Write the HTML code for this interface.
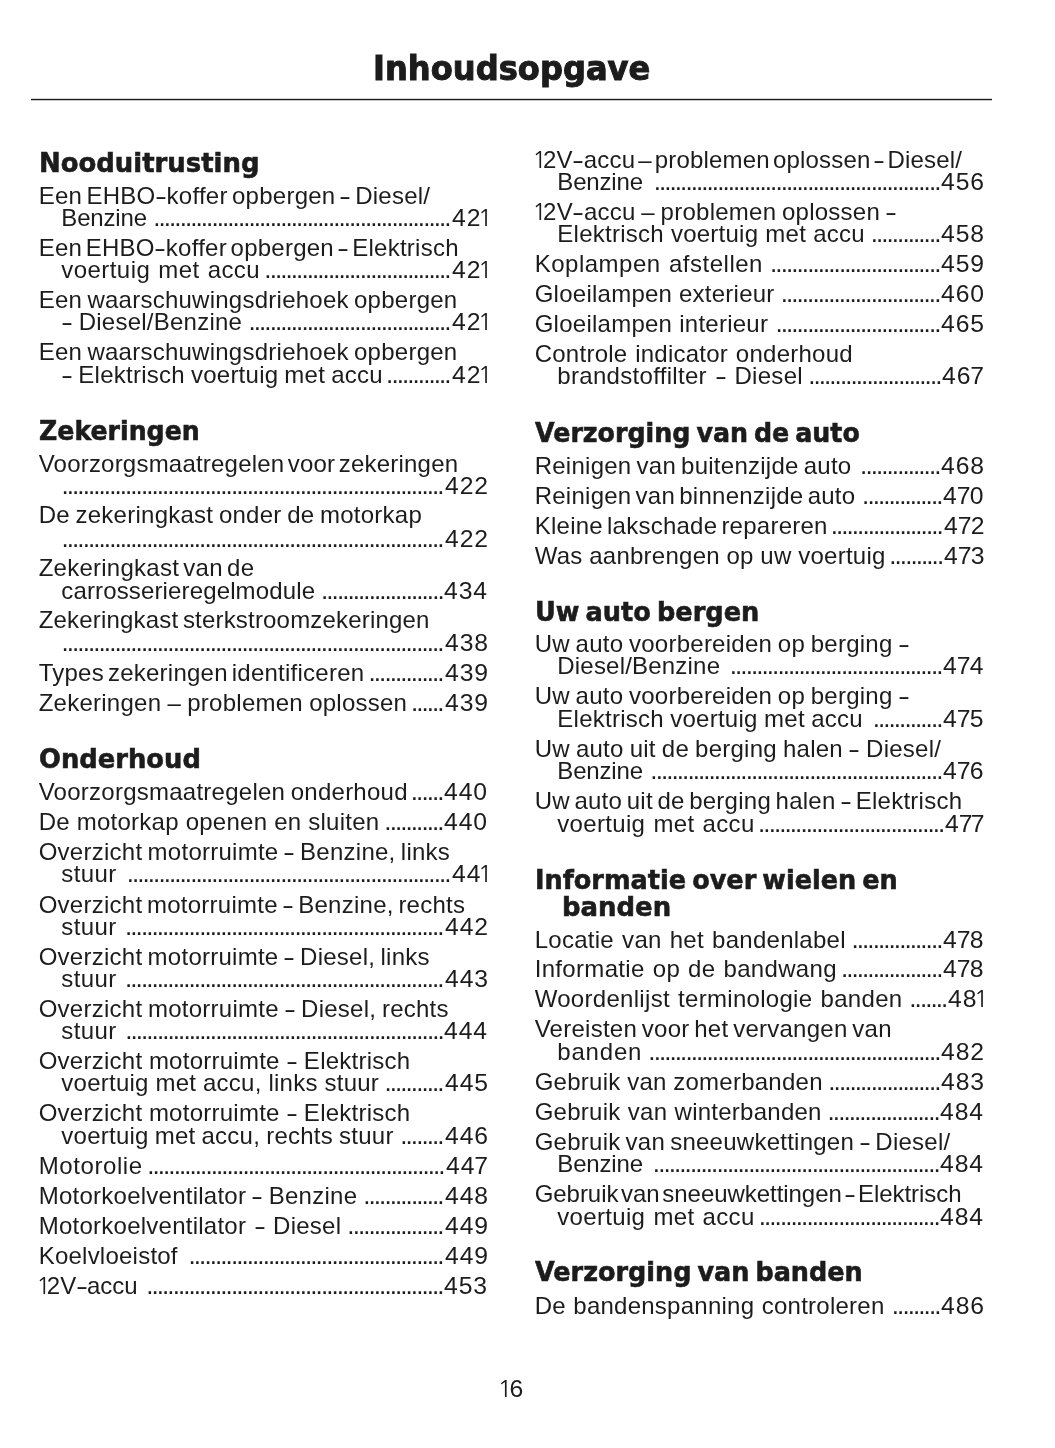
<!DOCTYPE html>
<html lang="nl"><head><meta charset="utf-8"><title>Inhoudsopgave</title>
<style>
html,body{margin:0;padding:0;background:#fff}
body{width:1055px;height:1448px;position:relative;overflow:hidden;color:#1c1c1c;font-family:"Liberation Sans",sans-serif}
h1,h2,p,div{margin:0;padding:0;position:absolute;white-space:nowrap}
h1{font-family:"DejaVu Sans","Liberation Sans",sans-serif;font-size:33.5px;line-height:40px;font-weight:bold;-webkit-text-stroke:1px #1c1c1c;transform-origin:0 0;word-spacing:-3px}
hr{position:absolute;margin:0;border:0;left:31.4px;top:98px;width:960.5px;height:3px;background:linear-gradient(#d4d4d4 0,#d4d4d4 1px,#1e1e1e 1px,#1e1e1e 2px,#c4c4c4 2px,#c4c4c4 3px)}
h2{font-family:"DejaVu Sans","Liberation Sans",sans-serif;font-size:26.5px;line-height:32px;font-weight:bold;-webkit-text-stroke:0.6px #1c1c1c;transform-origin:0 0;word-spacing:-3px}
.t{font-size:24px;line-height:24px}
.d{font-size:26px;line-height:24px;letter-spacing:-1.93px;text-align:right}
.p,.n{font-size:24px;line-height:24px;letter-spacing:0.9px;transform-origin:0 0;transform:scaleX(1.03)}
i{font-style:normal;font-family:"NanumGothic","Liberation Sans",sans-serif;line-height:0;margin:0 -4.2px 0 -3.4px}
.t i{margin:0 -3.9px 0 -2.5px}
u{text-decoration:none;display:inline-block;transform:scaleX(1.5);margin:0 1.4px}
.p b{font-weight:normal;margin:0 -1.6px 0 -1px}
</style></head><body>
<h1 style="left:373.08px;top:49px;transform:scaleX(0.9594)">Inhoudsopgave</h1>
<hr>
<h2 style="left:38.9px;top:147px;transform:scaleX(0.9778)">Nooduitrusting</h2>
<div class="t" style="left:38.7px;top:184px;word-spacing:-2.56px;letter-spacing:0.25px">Een EHBO<u>-</u>koffer opbergen <u>-</u> Diesel/</div>
<div class="t" style="left:61.3px;top:206px;letter-spacing:-0.17px">Benzine</div>
<div class="d" style="left:132.85px;width:316.8px;top:205px">........................................................</div>
<div class="p" style="left:451.7px;top:206px">42<i>1</i></div>
<div class="t" style="left:38.7px;top:236px;word-spacing:-3.29px;letter-spacing:0.25px">Een EHBO<u>-</u>koffer opbergen <u>-</u> Elektrisch</div>
<div class="t" style="left:61.3px;top:258px;word-spacing:0.95px;letter-spacing:0.44px">voertuig met accu</div>
<div class="d" style="left:244.15px;width:205.5px;top:257px">...................................</div>
<div class="p" style="left:451.7px;top:258px">42<i>1</i></div>
<div class="t" style="left:38.7px;top:288px;word-spacing:-1.67px;letter-spacing:0.25px">Een waarschuwingsdriehoek opbergen</div>
<div class="t" style="left:61.3px;top:310px;word-spacing:-0.62px;letter-spacing:0.25px"><u>-</u> Diesel/Benzine</div>
<div class="d" style="left:228.25px;width:221.4px;top:309px">......................................</div>
<div class="p" style="left:451.7px;top:310px">42<i>1</i></div>
<div class="t" style="left:38.7px;top:340px;word-spacing:-1.67px;letter-spacing:0.25px">Een waarschuwingsdriehoek opbergen</div>
<div class="t" style="left:61.3px;top:363px;word-spacing:-0.88px;letter-spacing:0.25px"><u>-</u> Elektrisch voertuig met accu</div>
<div class="d" style="left:366.05px;width:83.6px;top:362px">............</div>
<div class="p" style="left:451.7px;top:363px">42<i>1</i></div>
<h2 style="left:38.9px;top:415px;transform:scaleX(0.9516)">Zekeringen</h2>
<div class="t" style="left:38.7px;top:452px;word-spacing:-3.45px;letter-spacing:0.21px">Voorzorgsmaatregelen voor zekeringen</div>
<div class="d" style="left:41.05px;width:401.6px;top:473px">........................................................................</div>
<div class="p" style="left:444.7px;top:474px">422</div>
<div class="t" style="left:38.7px;top:503px;word-spacing:-1.27px;letter-spacing:0.25px">De zekeringkast onder de motorkap</div>
<div class="d" style="left:41.05px;width:401.6px;top:526px">........................................................................</div>
<div class="p" style="left:444.7px;top:527px">422</div>
<div class="t" style="left:38.7px;top:556px;word-spacing:-2.65px;letter-spacing:0.25px">Zekeringkast van de</div>
<div class="t" style="left:61.3px;top:579px;letter-spacing:0.14px">carrosserieregelmodule</div>
<div class="d" style="left:300.89px;width:141.9px;top:578px">.......................</div>
<div class="p" style="left:444.37px;top:579px">434</div>
<div class="t" style="left:38.7px;top:608px;word-spacing:-2.34px;letter-spacing:0.19px">Zekeringkast sterkstroomzekeringen</div>
<div class="d" style="left:41.05px;width:401.6px;top:630px">........................................................................</div>
<div class="p" style="left:444.7px;top:631px">438</div>
<div class="t" style="left:38.7px;top:661px;word-spacing:-3px;letter-spacing:0.25px">Types zekeringen identificeren</div>
<div class="d" style="left:348.45px;width:94.2px;top:660px">..............</div>
<div class="p" style="left:444.7px;top:661px">439</div>
<div class="t" style="left:38.7px;top:691px;word-spacing:-0.71px;letter-spacing:0.25px">Zekeringen – problemen oplossen</div>
<div class="d" style="left:390.85px;width:51.8px;top:690px">......</div>
<div class="p" style="left:444.7px;top:691px">439</div>
<h2 style="left:38.9px;top:743px;transform:scaleX(0.9731)">Onderhoud</h2>
<div class="t" style="left:38.7px;top:780px;word-spacing:-1.34px;letter-spacing:0.25px">Voorzorgsmaatregelen onderhoud</div>
<div class="d" style="left:390.81px;width:51.8px;top:779px">......</div>
<div class="p" style="left:444.17px;top:780px">440</div>
<div class="t" style="left:38.7px;top:810px;word-spacing:-0.04px;letter-spacing:0.25px">De motorkap openen en sluiten</div>
<div class="d" style="left:364.31px;width:78.3px;top:809px">...........</div>
<div class="p" style="left:444.17px;top:810px">440</div>
<div class="t" style="left:38.7px;top:840px;word-spacing:-1.59px;letter-spacing:0.25px">Overzicht motorruimte <u>-</u> Benzine, links</div>
<div class="t" style="left:61.3px;top:862px;letter-spacing:0.4px">stuur</div>
<div class="d" style="left:106.25px;width:343.3px;top:861px">.............................................................</div>
<div class="p" style="left:451.7px;top:862px">44<i>1</i></div>
<div class="t" style="left:38.7px;top:893px;word-spacing:-2.2px;letter-spacing:0.25px">Overzicht motorruimte <u>-</u> Benzine, rechts</div>
<div class="t" style="left:61.3px;top:915px;letter-spacing:0.4px">stuur</div>
<div class="d" style="left:104.65px;width:338px;top:914px">............................................................</div>
<div class="p" style="left:444.7px;top:915px">442</div>
<div class="t" style="left:38.7px;top:945px;word-spacing:-1.59px;letter-spacing:0.25px">Overzicht motorruimte <u>-</u> Diesel, links</div>
<div class="t" style="left:61.3px;top:967px;letter-spacing:0.4px">stuur</div>
<div class="d" style="left:104.65px;width:338px;top:966px">............................................................</div>
<div class="p" style="left:444.7px;top:967px">443</div>
<div class="t" style="left:38.7px;top:997px;word-spacing:-1.25px;letter-spacing:0.25px">Overzicht motorruimte <u>-</u> Diesel, rechts</div>
<div class="t" style="left:61.3px;top:1019px;letter-spacing:0.4px">stuur</div>
<div class="d" style="left:104.79px;width:338px;top:1018px">............................................................</div>
<div class="p" style="left:444.37px;top:1019px">444</div>
<div class="t" style="left:38.7px;top:1049px;word-spacing:-0.33px;letter-spacing:0.25px">Overzicht motorruimte <u>-</u> Elektrisch</div>
<div class="t" style="left:61.3px;top:1071px;word-spacing:-0.13px;letter-spacing:0.25px">voertuig met accu, links stuur</div>
<div class="d" style="left:364.35px;width:78.3px;top:1070px">...........</div>
<div class="p" style="left:444.7px;top:1071px">445</div>
<div class="t" style="left:38.7px;top:1101px;word-spacing:-0.33px;letter-spacing:0.25px">Overzicht motorruimte <u>-</u> Elektrisch</div>
<div class="t" style="left:61.3px;top:1124px;word-spacing:-0.88px;letter-spacing:0.25px">voertuig met accu, rechts stuur</div>
<div class="d" style="left:380.25px;width:62.4px;top:1123px">........</div>
<div class="p" style="left:444.7px;top:1124px">446</div>
<div class="t" style="left:38.7px;top:1154px;letter-spacing:0.59px">Motorolie</div>
<div class="d" style="left:126.85px;width:316.8px;top:1153px">........................................................</div>
<div class="p" style="left:445.7px;top:1154px">44<b>7</b></div>
<div class="t" style="left:38.7px;top:1184px;word-spacing:-1.15px;letter-spacing:0.25px">Motorkoelventilator <u>-</u> Benzine</div>
<div class="d" style="left:343.15px;width:99.5px;top:1183px">...............</div>
<div class="p" style="left:444.7px;top:1184px">448</div>
<div class="t" style="left:38.7px;top:1214px;word-spacing:1px;letter-spacing:0.25px">Motorkoelventilator <u>-</u> Diesel</div>
<div class="d" style="left:327.25px;width:115.4px;top:1213px">..................</div>
<div class="p" style="left:444.7px;top:1214px">449</div>
<div class="t" style="left:38.7px;top:1244px;letter-spacing:0.23px">Koelvloeistof</div>
<div class="d" style="left:168.25px;width:274.4px;top:1243px">................................................</div>
<div class="p" style="left:444.7px;top:1244px">449</div>
<div class="t" style="left:38.7px;top:1274px"><i>1</i>2V<u>-</u>accu</div>
<div class="d" style="left:125.85px;width:316.8px;top:1273px">........................................................</div>
<div class="p" style="left:444.2px;top:1274px">453</div>
<div class="t" style="left:534.7px;top:148px;word-spacing:-3.85px;letter-spacing:0.19px"><i>1</i>2V<u>-</u>accu – problemen oplossen <u>-</u> Diesel/</div>
<div class="t" style="left:557.3px;top:170px;letter-spacing:-0.17px">Benzine</div>
<div class="d" style="left:633.3px;width:306.2px;top:169px">......................................................</div>
<div class="p" style="left:940.7px;top:170px">456</div>
<div class="t" style="left:534.7px;top:200px;word-spacing:-1.25px;letter-spacing:0.25px"><i>1</i>2V<u>-</u>accu – problemen oplossen <u>-</u></div>
<div class="t" style="left:557.3px;top:222px;word-spacing:0.16px;letter-spacing:0.25px">Elektrisch voertuig met accu</div>
<div class="d" style="left:850.6px;width:88.9px;top:221px">.............</div>
<div class="p" style="left:940.7px;top:222px">458</div>
<div class="t" style="left:534.7px;top:252px;word-spacing:1.08px;letter-spacing:0.51px">Koplampen afstellen</div>
<div class="d" style="left:749.9px;width:189.6px;top:251px">................................</div>
<div class="p" style="left:940.7px;top:252px">459</div>
<div class="t" style="left:534.7px;top:282px;word-spacing:-0.11px;letter-spacing:0.25px">Gloeilampen exterieur</div>
<div class="d" style="left:760.46px;width:179px;top:281px">..............................</div>
<div class="p" style="left:941.17px;top:282px">460</div>
<div class="t" style="left:534.7px;top:312px;word-spacing:0.11px;letter-spacing:0.25px">Gloeilampen interieur</div>
<div class="d" style="left:755.2px;width:184.3px;top:311px">...............................</div>
<div class="p" style="left:940.7px;top:312px">465</div>
<div class="t" style="left:534.7px;top:342px;word-spacing:0.82px;letter-spacing:0.25px">Controle indicator onderhoud</div>
<div class="t" style="left:557.3px;top:364px;word-spacing:1.2px;letter-spacing:0.31px">brandstoffilter <u>-</u> Diesel</div>
<div class="d" style="left:788px;width:152.5px;top:363px">.........................</div>
<div class="p" style="left:942.2px;top:364px">46<b>7</b></div>
<h2 style="left:535.4px;top:417px;transform:scaleX(0.9555)">Verzorging van de auto</h2>
<div class="t" style="left:534.7px;top:454px;word-spacing:-1.81px;letter-spacing:0.25px">Reinigen van buitenzijde auto</div>
<div class="d" style="left:840px;width:99.5px;top:453px">...............</div>
<div class="p" style="left:940.7px;top:454px">468</div>
<div class="t" style="left:534.7px;top:484px;word-spacing:-2.72px;letter-spacing:0.25px">Reinigen van binnenzijde auto</div>
<div class="d" style="left:842px;width:99.5px;top:483px">...............</div>
<div class="p" style="left:942.7px;top:484px">4<b>7</b>0</div>
<div class="t" style="left:534.7px;top:514px;word-spacing:-2.84px;letter-spacing:0.25px">Kleine lakschade repareren</div>
<div class="d" style="left:810.5px;width:131.3px;top:513px">.....................</div>
<div class="p" style="left:943.91px;top:514px">4<b>7</b>2</div>
<div class="t" style="left:534.7px;top:544px;word-spacing:-0.25px;letter-spacing:0.25px">Was aanbrengen op uw voertuig</div>
<div class="d" style="left:869.19px;width:73px;top:543px">..........</div>
<div class="p" style="left:943.63px;top:544px">4<b>7</b>3</div>
<h2 style="left:535.4px;top:596px;transform:scaleX(0.9671)">Uw auto bergen</h2>
<div class="t" style="left:534.7px;top:632px;word-spacing:-1.2px;letter-spacing:0.25px">Uw auto voorbereiden op berging <u>-</u></div>
<div class="t" style="left:557.3px;top:654px;letter-spacing:0.2px">Diesel/Benzine</div>
<div class="d" style="left:709.5px;width:232px;top:653px">........................................</div>
<div class="p" style="left:942.7px;top:654px">4<b>7</b>4</div>
<div class="t" style="left:534.7px;top:684px;word-spacing:-1.2px;letter-spacing:0.25px">Uw auto voorbereiden op berging <u>-</u></div>
<div class="t" style="left:557.3px;top:707px;word-spacing:-0.5px;letter-spacing:0.25px">Elektrisch voertuig met accu</div>
<div class="d" style="left:852.6px;width:88.9px;top:706px">.............</div>
<div class="p" style="left:942.7px;top:707px">4<b>7</b>5</div>
<div class="t" style="left:534.7px;top:737px;word-spacing:-0.86px;letter-spacing:0.25px">Uw auto uit de berging halen <u>-</u> Diesel/</div>
<div class="t" style="left:557.3px;top:759px;letter-spacing:-0.17px">Benzine</div>
<div class="d" style="left:630px;width:311.5px;top:758px">.......................................................</div>
<div class="p" style="left:943.2px;top:759px">4<b>7</b>6</div>
<div class="t" style="left:534.7px;top:789px;word-spacing:-2.34px;letter-spacing:0.25px">Uw auto uit de berging halen <u>-</u> Elektrisch</div>
<div class="t" style="left:557.3px;top:812px;word-spacing:1.2px;letter-spacing:0.32px">voertuig met accu</div>
<div class="d" style="left:737.85px;width:205.5px;top:811px">...................................</div>
<div class="p" style="left:944.91px;top:812px">4<b>7</b><b>7</b></div>
<h2 style="left:535.4px;top:864px;transform:scaleX(0.9643)">Informatie over wielen en</h2>
<h2 style="left:561.75px;top:891px;transform:scaleX(0.9788)">banden</h2>
<div class="t" style="left:534.7px;top:928px;word-spacing:1.2px;letter-spacing:0.27px">Locatie van het bandenlabel</div>
<div class="d" style="left:831.4px;width:110.1px;top:927px">.................</div>
<div class="p" style="left:943.2px;top:928px">4<b>7</b>8</div>
<div class="t" style="left:534.7px;top:957px;word-spacing:1.03px;letter-spacing:0.33px">Informatie op de bandwang</div>
<div class="d" style="left:820.8px;width:120.7px;top:956px">...................</div>
<div class="p" style="left:943.2px;top:957px">4<b>7</b>8</div>
<div class="t" style="left:534.7px;top:987px;word-spacing:1.2px;letter-spacing:0.3px">Woordenlijst terminologie banden</div>
<div class="d" style="left:889.31px;width:57.1px;top:986px">.......</div>
<div class="p" style="left:948.2px;top:987px">48<i>1</i></div>
<div class="t" style="left:534.7px;top:1017px;word-spacing:-2.13px;letter-spacing:0.25px">Vereisten voor het vervangen van</div>
<div class="t" style="left:557.3px;top:1040px;letter-spacing:0.8px">banden</div>
<div class="d" style="left:628px;width:311.5px;top:1039px">.......................................................</div>
<div class="p" style="left:940.7px;top:1040px">482</div>
<div class="t" style="left:534.7px;top:1070px;word-spacing:-0.26px;letter-spacing:0.25px">Gebruik van zomerbanden</div>
<div class="d" style="left:808.2px;width:131.3px;top:1069px">.....................</div>
<div class="p" style="left:940.7px;top:1070px">483</div>
<div class="t" style="left:534.7px;top:1100px;word-spacing:0.41px;letter-spacing:0.25px">Gebruik van winterbanden</div>
<div class="d" style="left:807.44px;width:131.3px;top:1099px">.....................</div>
<div class="p" style="left:940.37px;top:1100px">484</div>
<div class="t" style="left:534.7px;top:1130px;word-spacing:-1.79px;letter-spacing:0.25px">Gebruik van sneeuwkettingen <u>-</u> Diesel/</div>
<div class="t" style="left:557.3px;top:1152px;letter-spacing:-0.17px">Benzine</div>
<div class="d" style="left:632.54px;width:306.2px;top:1151px">......................................................</div>
<div class="p" style="left:940.37px;top:1152px">484</div>
<div class="t" style="left:534.7px;top:1182px;word-spacing:-3.89px;letter-spacing:-0.05px">Gebruik van sneeuwkettingen <u>-</u> Elektrisch</div>
<div class="t" style="left:557.3px;top:1205px;word-spacing:1.2px;letter-spacing:0.32px">voertuig met accu</div>
<div class="d" style="left:738.54px;width:200.2px;top:1204px">..................................</div>
<div class="p" style="left:940.37px;top:1205px">484</div>
<h2 style="left:535.4px;top:1256px;transform:scaleX(0.9617)">Verzorging van banden</h2>
<div class="t" style="left:534.7px;top:1294px;word-spacing:0.5px;letter-spacing:0.25px">De bandenspanning controleren</div>
<div class="d" style="left:871.8px;width:67.7px;top:1293px">.........</div>
<div class="p" style="left:940.7px;top:1294px">486</div>
<div class="n" style="left:501px;top:1377px;letter-spacing:1.21px"><i>1</i>6</div>
</body></html>
